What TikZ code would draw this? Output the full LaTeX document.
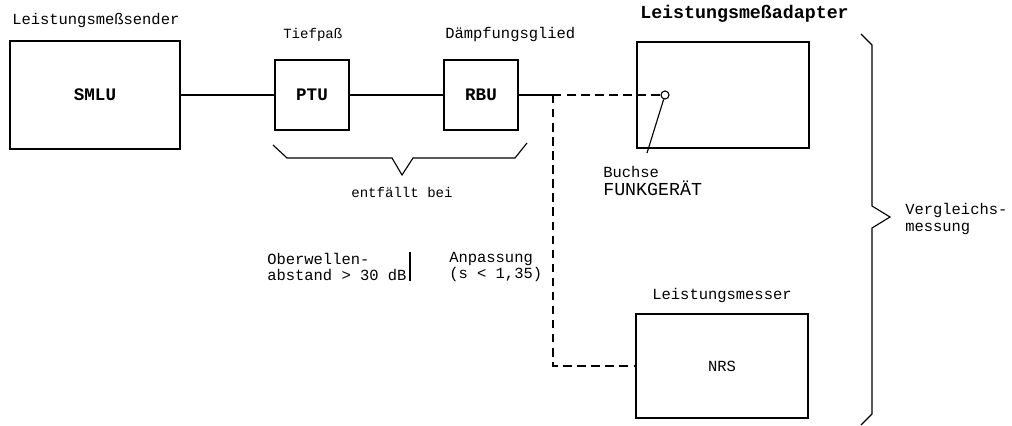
\documentclass[tikz,border=0pt]{standalone}
\usepackage{fontspec}
\setmainfont{Liberation Mono}
\usetikzlibrary{positioning, calc}

\begin{document}
\begin{tikzpicture}[x=0.025cm,y=-0.025cm,font=\fontsize{11}{12}\selectfont,
  bx/.style={draw,line width=1.4pt,inner sep=0pt},
  nm/.style={font=\fontsize{12.5}{14}\selectfont\bfseries},
  lb/.style={inner sep=0pt,align=left},
  w/.style={line width=0.8pt},
  dl/.style={w,dash pattern=on 6pt off 4pt}]
  \useasboundingbox (0,0) rectangle (1012,426);
  % Bausteine
  \node[bx,nm,minimum width=4.25cm,minimum height=2.72cm] (smlu) at (95,95) {SMLU};
  \node[bx,nm,minimum width=1.87cm,minimum height=1.75cm] (ptu) at (312,95) {PTU};
  \node[bx,nm,minimum width=1.83cm,minimum height=1.75cm] (rbu) at (481,95) {RBU};
  \node[bx,minimum width=4.32cm,minimum height=2.65cm] (ada) at (723,95) {};
  \node[bx,minimum width=4.3cm,minimum height=2.62cm] (nrs) at (722,366) {NRS};
  \node[circle,draw,w,fill=white,inner sep=0pt,minimum size=0.2cm] (bu) at (665,95) {};
  % Beschriftungen
  \node[lb,anchor=west] (l1) at (12,20) {Leistungsmeßsender};
  \node[lb,anchor=west,font=\fontsize{10}{12}\selectfont] (l2) at (283,35) {Tiefpaß};
  \node[lb,anchor=west] (l3) at (445,35) {Dämpfungsglied};
  \node[lb,anchor=west,font=\fontsize{13}{14}\selectfont\bfseries] (l4) at (640,14) {Leistungsmeßadapter};
  \node[lb] (l5) at (722,295) {Leistungsmesser};
  \node[lb,anchor=west] (bt) at (603,181) {Buchse\\[1pt]{\fontsize{13}{14}\selectfont FUNKGERÄT}};
  \node[lb,anchor=west] (ow) at (267,267) {Oberwellen-\\abstand > 30 dB};
  \node[lb,anchor=west] (an) at (449,267) {Anpassung\\(s < 1,35)};
  \node[lb,anchor=west] (vm) at (905,219) {Vergleichs-\\messung};
  % Leitungen
  \coordinate (j) at (553,95);
  \coordinate (bp) at (647,153);
  \draw[w] (smlu) -- (ptu); \draw[w] (ptu) -- (rbu); \draw[w] (rbu) -- (j);
  \draw[dl] (j) -- (bu);
  \draw[dl] (j) |- (nrs);
  \draw[w] (bu) -- (bp);
  \draw[line width=1.2pt] (410,252) -- (410,281);
  % Klammern
  \coordinate (tip) at (402,175);
  \draw[w] (273,145) -- (287,158) -- (392,158) -- (tip) -- (413,158) -- (515,158) -- (527,143);
  \node[lb,below=0.3cm of tip,font=\fontsize{10}{12}\selectfont] (eb) {entfällt bei};
  \draw[w] (861,34) -- (872,45) -- (872,206) -- (890,217) -- (872,228) -- (872,414) -- (861,425);
\end{tikzpicture}
\end{document}
